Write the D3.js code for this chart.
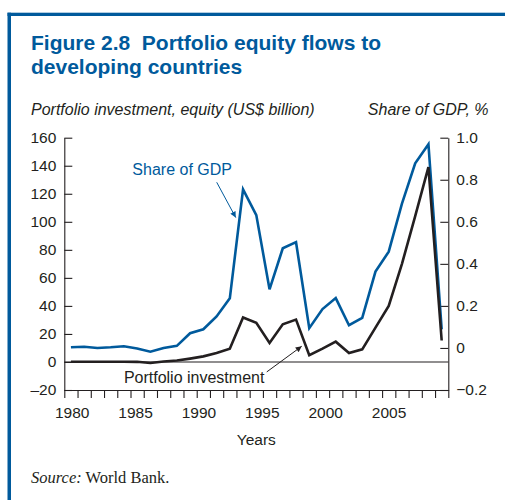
<!DOCTYPE html>
<html>
<head>
<meta charset="utf-8">
<script src="https://cdn.jsdelivr.net/npm/d3@7"></script>
<style>
  html, body { margin: 0; padding: 0; background: #ffffff; }
  svg { display: block; }
  text { font-family: "Liberation Sans", Arial, Helvetica, sans-serif; fill: #231f20; }
</style>
</head>
<body>
<svg id="chart" width="505" height="500"></svg>
<script>
// ---- Data ----
const years = [1980,1981,1982,1983,1984,1985,1986,1987,1988,1989,
               1990,1991,1992,1993,1994,1995,1996,1997,1998,1999,
               2000,2001,2002,2003,2004,2005,2006,2007,2008];
// Portfolio investment, equity (US$ billion) - left axis
const equity = [0.2,0.2,0.2,0.2,0.2,0.1,-0.7,0.3,1.0,2.4,
                4.0,6.4,9.5,31.7,28.0,13.6,26.9,30.2,4.8,9.5,
                14.5,6.4,9.0,24.5,40.0,70.0,104.0,139.0,15.3];
// Share of GDP, % - right axis
const shareGDP = [0.003,0.006,0.0,0.003,0.008,-0.003,-0.018,0.0,0.01,0.07,
                  0.089,0.15,0.236,0.754,0.632,0.279,0.474,0.503,0.094,0.185,
                  0.237,0.108,0.143,0.363,0.458,0.686,0.878,0.969,0.089];
const leftTicks = [-20,0,20,40,60,80,100,120,140,160];
const rightTicks = [-0.2,0,0.2,0.4,0.6,0.8,1.0];
const yearLabels = [1980,1985,1990,1995,2000,2005];

const titleLines = ["Figure 2.8  Portfolio equity flows to", "developing countries"];
const leftAxisTitle = "Portfolio investment, equity (US$ billion)";
const rightAxisTitle = "Share of GDP, %";
const xAxisTitle = "Years";

const BLUE = "#005a9c";
const INK = "#231f20";

const svg = d3.select("#chart");

// ---- Frame ----
svg.append("rect").attr("x", 7.5).attr("y", 12.7).attr("width", 505).attr("height", 3.3).attr("fill", BLUE);
svg.append("rect").attr("x", 7.5).attr("y", 12.7).attr("width", 3.5).attr("height", 500).attr("fill", BLUE);

// ---- Title ----
svg.append("g").selectAll("text").data(titleLines).join("text")
  .attr("x", 31).attr("y", (d, i) => 50 + i * 24)
  .style("white-space", "pre")
  .attr("font-size", 21).attr("font-weight", "bold")
  .style("fill", BLUE)
  .text(d => d);

svg.append("text").attr("x", 31).attr("y", 115)
  .attr("font-size", 16).attr("font-style", "italic").text(leftAxisTitle);
svg.append("text").attr("x", 488.5).attr("y", 115).attr("text-anchor", "end")
  .attr("font-size", 16).attr("font-style", "italic").text(rightAxisTitle);

// ---- Scales ----
const plotL = 64.3, plotR = 448.3, plotT = 137.7, plotB = 390;
const x = d3.scaleLinear().domain([1980, 2009]).range([plotL, plotR]);
const yL = d3.scaleLinear().domain([-20, 160]).range([plotB, plotT]);
const yR = d3.scaleLinear().domain([-0.2, 1.0]).range([plotB, plotT]);
// the printed year labels sit on a slightly compressed spacing in the original
const xLab = d3.scaleLinear().domain([1980, 2009]).range([plotL + 7.4, plotR - 9]);

const minusFmt = s => s.replace("-", "\u2013");

// ---- Axes ----
const axL = svg.append("g").attr("transform", `translate(${plotL},0)`)
  .call(d3.axisLeft(yL).tickValues(leftTicks).tickSize(-8).tickSizeOuter(0).tickPadding(8)
    .tickFormat(d => minusFmt(String(d))));
const axR = svg.append("g").attr("transform", `translate(${plotR},0)`)
  .call(d3.axisRight(yR).tickValues(rightTicks).tickSize(-8).tickSizeOuter(0).tickPadding(8)
    .tickFormat(d => d === 0 ? "0" : minusFmt(d3.format(".1f")(d))));
const axB = svg.append("g").attr("transform", `translate(0,${plotB})`)
  .call(d3.axisBottom(x).tickValues(d3.range(1980, 2010)).tickSize(8).tickSizeOuter(0).tickFormat(""));
const axBL = svg.append("g").attr("transform", `translate(0,${plotB})`)
  .call(d3.axisBottom(xLab).tickValues(yearLabels).tickSize(0).tickPadding(17).tickFormat(d3.format("d")));
axBL.select(".domain").remove();

[axL, axR, axB].forEach(g => {
  g.selectAll("path.domain").attr("stroke", INK).attr("stroke-width", 1.1);
  g.selectAll(".tick line").attr("stroke", INK).attr("stroke-width", 1.1);
});
[axL, axR, axBL].forEach(g => {
  g.selectAll("text").attr("font-size", 15.5).attr("font-family", null).style("fill", INK);
});

svg.append("text").attr("x", (plotL + plotR) / 2).attr("y", 445).attr("text-anchor", "middle")
  .attr("font-size", 15.5).text(xAxisTitle);

// zero line
svg.append("line").attr("x1", x(1980)).attr("x2", x(2009)).attr("y1", yL(0)).attr("y2", yL(0))
  .attr("stroke", INK).attr("stroke-width", 1.1);

// ---- Lines ----
const lineL = d3.line().x((d, i) => x(years[i] + 0.5)).y(d => yL(d));
const lineR = d3.line().x((d, i) => x(years[i] + 0.5)).y(d => yR(d));

svg.append("path").datum(shareGDP).attr("d", lineR)
  .attr("fill", "none").attr("stroke", BLUE).attr("stroke-width", 2.6).attr("stroke-linejoin", "miter");
svg.append("path").datum(equity).attr("d", lineL)
  .attr("fill", "none").attr("stroke", INK).attr("stroke-width", 2.6).attr("stroke-linejoin", "miter");

// ---- Annotations ----
const defs = svg.append("defs");
[["arrBlue", BLUE], ["arrInk", INK]].forEach(([id, c]) => {
  defs.append("marker").attr("id", id).attr("viewBox", "0 0 10 10").attr("refX", 10).attr("refY", 5)
    .attr("markerWidth", 8).attr("markerHeight", 6).attr("markerUnits", "userSpaceOnUse")
    .attr("orient", "auto")
    .append("path").attr("d", "M0,0 L10,5 L0,10 Z").attr("fill", c);
});

svg.append("line")
  .attr("x1", x(1991.51)).attr("y1", yR(0.788))
  .attr("x2", x(1992.95)).attr("y2", yR(0.62))
  .attr("stroke", BLUE).attr("stroke-width", 1).attr("marker-end", "url(#arrBlue)");
svg.append("text").attr("x", x(1985.14)).attr("y", yR(0.823))
  .attr("font-size", 16).style("fill", BLUE).text("Share of GDP");

svg.append("line")
  .attr("x1", x(1995.29)).attr("y1", yL(-7.1))
  .attr("x2", x(1997.93)).attr("y2", yL(11.2))
  .attr("stroke", INK).attr("stroke-width", 1).attr("marker-end", "url(#arrInk)");
svg.append("text").attr("x", x(1984.5)).attr("y", yL(-15))
  .attr("font-size", 16).text("Portfolio investment");

// ---- Source ----
const src = svg.append("text").attr("x", 31).attr("y", 483)
  .attr("font-size", 16.5).style("font-family", "'Liberation Serif', 'Times New Roman', serif");
src.append("tspan").attr("font-style", "italic").text("Source:");
src.append("tspan").text(" World Bank.");
</script>
</body>
</html>
